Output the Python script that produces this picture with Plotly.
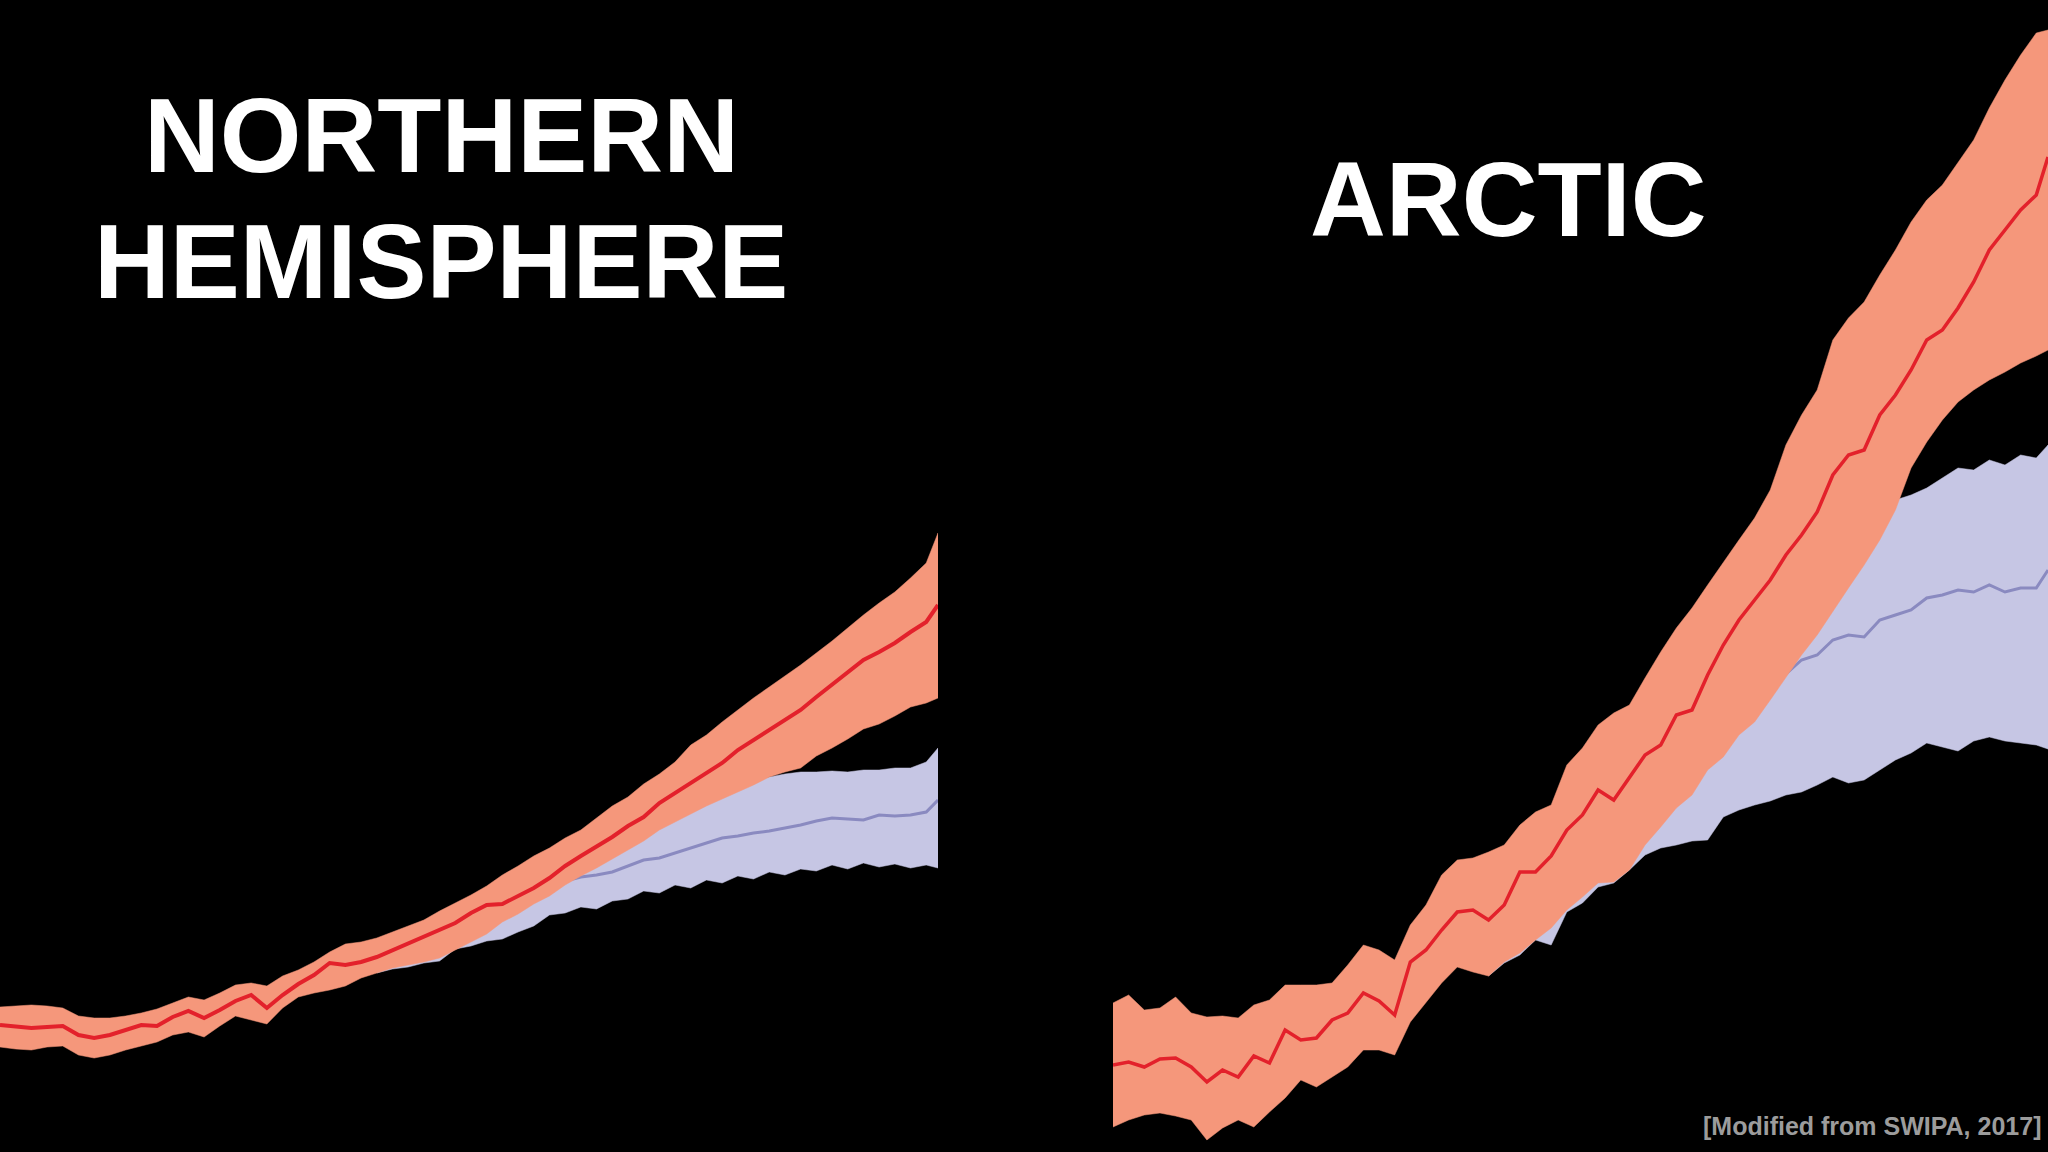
import plotly.graph_objects as go

# ---------------- data ----------------
years = [1861 + 4 * i for i in range(60)] + [2100]
blue_start = 24  # index of 1957, where the low-emission branch is drawn from

# Northern Hemisphere (temperature change, degC, relative to start)
nh_red = [0.00, -0.02, -0.03, -0.02, -0.01, -0.10, -0.13, -0.10, -0.05, 0.00,
          -0.01, 0.08, 0.14, 0.07, 0.15, 0.24, 0.30, 0.17, 0.30, 0.41,
          0.50, 0.62, 0.60, 0.63, 0.68, 0.75, 0.82, 0.89, 0.95, 1.02,
          1.12, 1.20, 1.21, 1.29, 1.37, 1.47, 1.59, 1.69, 1.78, 1.88,
          1.99, 2.08, 2.22, 2.32, 2.42, 2.52, 2.62, 2.75, 2.85, 2.95,
          3.05, 3.15, 3.28, 3.40, 3.53, 3.65, 3.73, 3.82, 3.93, 4.03, 4.20]
nh_red_hi = [0.18, 0.19, 0.20, 0.19, 0.17, 0.09, 0.07, 0.07, 0.09, 0.12,
             0.16, 0.22, 0.28, 0.25, 0.32, 0.40, 0.42, 0.39, 0.49, 0.55,
             0.63, 0.73, 0.81, 0.83, 0.87, 0.93, 0.99, 1.05, 1.14, 1.22,
             1.30, 1.39, 1.50, 1.59, 1.69, 1.77, 1.87, 1.95, 2.07, 2.19,
             2.28, 2.41, 2.51, 2.63, 2.80, 2.90, 3.03, 3.15, 3.27, 3.38,
             3.49, 3.60, 3.72, 3.84, 3.97, 4.10, 4.22, 4.33, 4.47, 4.62, 4.92]
nh_red_lo = [-0.22, -0.24, -0.25, -0.22, -0.21, -0.30, -0.33, -0.30, -0.25, -0.21,
             -0.17, -0.10, -0.07, -0.12, -0.01, 0.09, 0.05, 0.01, 0.17, 0.28,
             0.32, 0.35, 0.39, 0.47, 0.52, 0.57, 0.60, 0.63, 0.67, 0.75,
             0.83, 0.91, 1.03, 1.11, 1.21, 1.29, 1.40, 1.49, 1.57, 1.66,
             1.75, 1.84, 1.95, 2.03, 2.11, 2.19, 2.26, 2.33, 2.40, 2.48,
             2.53, 2.57, 2.69, 2.77, 2.86, 2.96, 3.01, 3.09, 3.18, 3.22, 3.27]
nh_blue = [0.68, 0.74, 0.80, 0.86, 0.92, 0.99, 1.06, 1.12, 1.18, 1.25,
           1.32, 1.38, 1.44, 1.48, 1.50, 1.53, 1.59, 1.65, 1.67, 1.72,
           1.77, 1.82, 1.87, 1.89, 1.92, 1.94, 1.97, 2.00, 2.04, 2.07,
           2.06, 2.05, 2.10, 2.09, 2.10, 2.13, 2.25]
nh_blue_hi = [0.80, 0.87, 0.93, 0.99, 1.05, 1.13, 1.20, 1.28, 1.35, 1.43,
              1.51, 1.59, 1.67, 1.75, 1.83, 1.91, 1.98, 2.05, 2.12, 2.19,
              2.25, 2.31, 2.36, 2.41, 2.45, 2.48, 2.51, 2.53, 2.53, 2.54,
              2.53, 2.55, 2.55, 2.57, 2.57, 2.63, 2.77]
nh_blue_lo = [0.52, 0.56, 0.58, 0.62, 0.64, 0.76, 0.79, 0.84, 0.86, 0.93,
              0.99, 1.10, 1.12, 1.18, 1.16, 1.24, 1.26, 1.34, 1.32, 1.40,
              1.37, 1.45, 1.42, 1.49, 1.46, 1.53, 1.50, 1.56, 1.54, 1.60,
              1.56, 1.62, 1.58, 1.61, 1.57, 1.60, 1.57]

# Arctic
ar_red = [0.00, 0.03, -0.02, 0.06, 0.07, -0.02, -0.17, -0.05, -0.12, 0.09,
          0.02, 0.35, 0.25, 0.27, 0.45, 0.52, 0.72, 0.64, 0.50, 1.03,
          1.15, 1.35, 1.53, 1.55, 1.45, 1.60, 1.93, 1.93, 2.09, 2.35,
          2.50, 2.75, 2.65, 2.87, 3.10, 3.20, 3.50, 3.55, 3.90, 4.20,
          4.45, 4.65, 4.85, 5.10, 5.30, 5.53, 5.90, 6.10, 6.15, 6.50,
          6.70, 6.95, 7.25, 7.35, 7.57, 7.83, 8.15, 8.35, 8.55, 8.70, 9.08]
ar_red_hi = [0.62, 0.70, 0.55, 0.57, 0.68, 0.52, 0.48, 0.49, 0.47, 0.60,
             0.65, 0.80, 0.80, 0.80, 0.82, 1.00, 1.20, 1.15, 1.05, 1.40,
             1.60, 1.90, 2.05, 2.07, 2.13, 2.20, 2.40, 2.53, 2.60, 3.00,
             3.17, 3.40, 3.52, 3.60, 3.87, 4.13, 4.37, 4.57, 4.80, 5.03,
             5.25, 5.47, 5.75, 6.20, 6.50, 6.75, 7.25, 7.47, 7.63, 7.90,
             8.15, 8.43, 8.65, 8.80, 9.03, 9.25, 9.57, 9.85, 10.10, 10.32, 10.35]
ar_red_lo = [-0.62, -0.55, -0.50, -0.48, -0.51, -0.55, -0.75, -0.63, -0.55, -0.62,
             -0.47, -0.33, -0.15, -0.22, -0.12, -0.02, 0.15, 0.15, 0.10, 0.43,
             0.62, 0.82, 0.98, 0.93, 0.89, 1.03, 1.12, 1.25, 1.37, 1.55,
             1.68, 1.82, 1.83, 1.95, 2.20, 2.38, 2.57, 2.70, 2.95, 3.08,
             3.30, 3.43, 3.65, 3.87, 4.10, 4.30, 4.53, 4.77, 5.00, 5.25,
             5.55, 5.97, 6.23, 6.45, 6.63, 6.75, 6.85, 6.93, 7.02, 7.09, 7.15]
ar_blue = [1.45, 1.60, 1.80, 1.95, 2.10, 2.30, 2.43, 2.60, 2.70, 2.83,
           2.97, 3.10, 3.25, 3.37, 3.50, 3.60, 3.67, 3.75, 3.83, 3.91,
           4.05, 4.10, 4.25, 4.30, 4.28, 4.45, 4.50, 4.55, 4.67, 4.70,
           4.75, 4.73, 4.80, 4.73, 4.77, 4.77, 4.95]
ar_blue_hi = [1.50, 1.65, 1.85, 2.03, 2.20, 2.40, 2.60, 2.80, 2.97, 3.15,
              3.35, 3.53, 3.70, 3.87, 4.05, 4.22, 4.38, 4.53, 4.68, 4.82,
              4.95, 5.08, 5.22, 5.35, 5.48, 5.60, 5.65, 5.70, 5.77, 5.87,
              5.97, 5.95, 6.05, 6.00, 6.10, 6.07, 6.20]
ar_blue_lo = [0.89, 1.02, 1.10, 1.25, 1.20, 1.53, 1.62, 1.78, 1.82, 1.95,
              2.10, 2.17, 2.20, 2.24, 2.25, 2.48, 2.55, 2.60, 2.64, 2.70,
              2.73, 2.80, 2.88, 2.82, 2.85, 2.95, 3.05, 3.12, 3.22, 3.18,
              3.14, 3.24, 3.28, 3.24, 3.22, 3.20, 3.16]

titles = ["NORTHERN", "HEMISPHERE", "ARCTIC"]
source = "[Modified from SWIPA, 2017]"

# ---------------- style ----------------
BG = "#000000"
ORANGE = "#f5977b"
RED = "#e3212b"
LAV = "#c6c6e4"
BLUE_LINE = "#8a8ac0"

fig = go.Figure()


def band(x, lo, hi, color, xa, ya):
    fig.add_trace(go.Scatter(
        x=list(x) + list(x)[::-1], y=list(hi) + list(lo)[::-1],
        mode="lines", line=dict(width=0.5, color=color), fill="toself",
        fillcolor=color, xaxis=xa, yaxis=ya, hoverinfo="skip", showlegend=False))


def line(x, y, color, w, xa, ya):
    fig.add_trace(go.Scatter(
        x=x, y=y, mode="lines", line=dict(color=color, width=w),
        xaxis=xa, yaxis=ya, hoverinfo="skip", showlegend=False))


byears = years[blue_start:]
for (red, rhi, rlo, blu, bhi, blo, xa, ya, w) in [
        (nh_red, nh_red_hi, nh_red_lo, nh_blue, nh_blue_hi, nh_blue_lo, "x", "y", 4),
        (ar_red, ar_red_hi, ar_red_lo, ar_blue, ar_blue_hi, ar_blue_lo, "x2", "y2", 3.5)]:
    band(byears, blo, bhi, LAV, xa, ya)
    line(byears, blu, BLUE_LINE, 3, xa, ya)
    band(years, rlo, rhi, ORANGE, xa, ya)
    line(years, red, RED, w, xa, ya)

ax = dict(visible=False, showgrid=False, zeroline=False, fixedrange=True)
fig.update_layout(
    width=2048, height=1152,
    margin=dict(l=0, r=0, t=0, b=0),
    paper_bgcolor=BG, plot_bgcolor=BG,
    xaxis=dict(ax, domain=[0, 938 / 2048], range=[1861, 2100]),
    yaxis=dict(ax, domain=[0, 1], range=[-1.27, 10.25], anchor="x"),
    xaxis2=dict(ax, domain=[1113 / 2048, 1.0], range=[1861, 2100], anchor="y2"),
    yaxis2=dict(ax, domain=[0, 1], range=[-0.87, 10.65], anchor="x2"),
    showlegend=False,
    font=dict(family="Liberation Sans, Arial, sans-serif"),
)

tfont = dict(family="Liberation Sans, Arial, sans-serif", size=105, color="white")
fig.add_annotation(text="<b>%s</b>" % titles[0], x=441 / 2048, y=1 - 135 / 1152,
                   xref="paper", yref="paper", xanchor="center", yanchor="middle",
                   showarrow=False, font=tfont)
fig.add_annotation(text="<b>%s</b>" % titles[1], x=441 / 2048, y=1 - 261 / 1152,
                   xref="paper", yref="paper", xanchor="center", yanchor="middle",
                   showarrow=False, font=tfont)
fig.add_annotation(text="<b>%s</b>" % titles[2], x=1508 / 2048, y=1 - 199 / 1152,
                   xref="paper", yref="paper", xanchor="center", yanchor="middle",
                   showarrow=False, font=tfont)
fig.add_annotation(text="<b>%s</b>" % source, x=2043 / 2048, y=1 - 1126 / 1152,
                   xref="paper", yref="paper", xanchor="right", yanchor="middle",
                   showarrow=False,
                   font=dict(family="Liberation Sans, Arial, sans-serif", size=25,
                             color="#9c9c9c"))

fig.write_html("out.html", config={"displayModeBar": False, "staticPlot": True},
               post_script="document.body.style.margin='0';"
                           "document.body.style.background='black';"
                           "document.body.style.overflow='hidden';")
